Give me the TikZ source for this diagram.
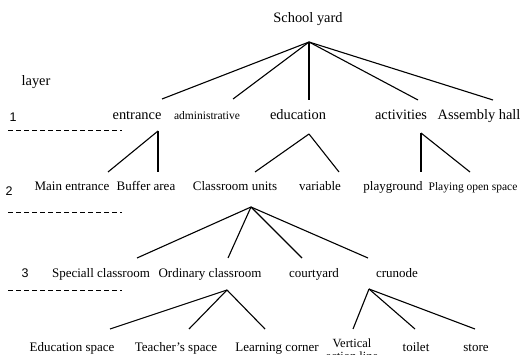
\documentclass[tikz,border=0pt]{standalone}
\usepackage{fontspec}
\setmainfont{Liberation Serif}
\newfontfamily\numfont{Liberation Sans}
\begin{document}
\begin{tikzpicture}[x=1pt,y=-1pt,
  lbl/.style={anchor=base,inner sep=0pt,font=\fontsize{14.4}{16}\selectfont},
  lbltwo/.style={anchor=base,inner sep=0pt,font=\fontsize{13}{15}\selectfont},
  small/.style={anchor=base,inner sep=0pt,font=\fontsize{11.5}{13}\selectfont},
  num/.style={anchor=base,inner sep=0pt,font=\numfont\fontsize{12.5}{14}\selectfont},
  link/.style={line width=1.1pt},
  layerline/.style={line width=0.9pt,dash pattern=on 5pt off 3pt}]
\useasboundingbox (0,0) rectangle (521,355);

% layer markers
\node[lbl] (layer) at (36,86) {layer};
\node[num] (n1) at (13,122) {1};
\node[num] (n2) at (9,196) {2};
\node[num] (n3) at (25,277) {3};
\coordinate (d1a) at (8,130);  \coordinate (d1b) at (122,130);
\coordinate (d2a) at (8,212);  \coordinate (d2b) at (122,212);
\coordinate (d3a) at (8,290);  \coordinate (d3b) at (122,290);
\draw[layerline] (d1a) -- (d1b);
\draw[layerline] (d2a) -- (d2b);
\draw[layerline] (d3a) -- (d3b);

% root
\node[lbl] (yard) at (308,23) {School yard};

% level 1
\node[lbl] (entrance) at (137,120) {entrance};
\node[small] (admin) at (207,120) {administrative};
\node[lbl] (education) at (298,120) {education};
\node[lbl] (activities) at (401,120) {activities};
\node[lbl] (hall) at (479,120) {Assembly hall};

% level 2
\node[lbltwo] (main) at (72,191) {Main entrance};
\node[lbltwo] (buffer) at (146,191) {Buffer area};
\node[lbltwo] (units) at (235,191) {Classroom units};
\node[lbltwo] (variable) at (320,191) {variable};
\node[lbltwo] (playground) at (393,191) {playground};
\node[small] (openspace) at (473,191) {Playing open space};

% level 3
\node[lbltwo] (special) at (101,277) {Speciall classroom};
\node[lbltwo] (ordinary) at (210,277) {Ordinary classroom};
\node[lbltwo] (courtyard) at (314,277) {courtyard};
\node[lbltwo] (crunode) at (397,277) {crunode};

% level 4
\node[lbltwo] (eduspace) at (72,351) {Education space};
\node[lbltwo] (teacher) at (176,351) {Teacher’s space};
\node[lbltwo] (learning) at (277,351) {Learning corner};
\node[anchor=north,inner sep=0pt,align=center,font=\fontsize{12.5}{12.5}\selectfont] (vertical) at (352,339) {Vertical\\action line};
\node[lbltwo] (toilet) at (416,351) {toilet};
\node[lbltwo] (store) at (476,351) {store};

% branch points
\coordinate (yard-j) at (309,42);
\coordinate (entrance-t) at (162,99);
\coordinate (admin-t) at (233,99);
\coordinate (education-t) at (309,100);
\coordinate (activities-t) at (418,100);
\coordinate (hall-t) at (493,100);

\coordinate (entrance-j) at (158,131);
\coordinate (main-t) at (108,172);
\coordinate (buffer-t) at (158,172);
\coordinate (education-j) at (309,134);
\coordinate (units-t) at (255,172);
\coordinate (variable-t) at (339,172);
\coordinate (activities-j) at (421,133);
\coordinate (playground-t) at (421,172);
\coordinate (openspace-t) at (470,172);

\coordinate (units-j) at (251,207);
\coordinate (special-t) at (137,258);
\coordinate (ordinary-t) at (228,258);
\coordinate (courtyard-t) at (302,258);
\coordinate (crunode-t) at (368,258);

\coordinate (ordinary-j) at (227,290);
\coordinate (eduspace-t) at (110,329);
\coordinate (teacher-t) at (189,329);
\coordinate (learning-t) at (265,329);
\coordinate (crunode-j) at (369,289);
\coordinate (vertical-t) at (353,329);
\coordinate (toilet-t) at (415,329);
\coordinate (store-t) at (475,329);

% connectors
\foreach \c in {entrance,admin,education,activities,hall}
  \draw[link] (yard-j) -- (\c-t);
\foreach \c in {main,buffer}
  \draw[link] (entrance-j) -- (\c-t);
\foreach \c in {units,variable}
  \draw[link] (education-j) -- (\c-t);
\foreach \c in {playground,openspace}
  \draw[link] (activities-j) -- (\c-t);
\foreach \c in {special,ordinary,courtyard,crunode}
  \draw[link] (units-j) -- (\c-t);
\foreach \c in {eduspace,teacher,learning}
  \draw[link] (ordinary-j) -- (\c-t);
\foreach \c in {vertical,toilet,store}
  \draw[link] (crunode-j) -- (\c-t);
\end{tikzpicture}
\end{document}
